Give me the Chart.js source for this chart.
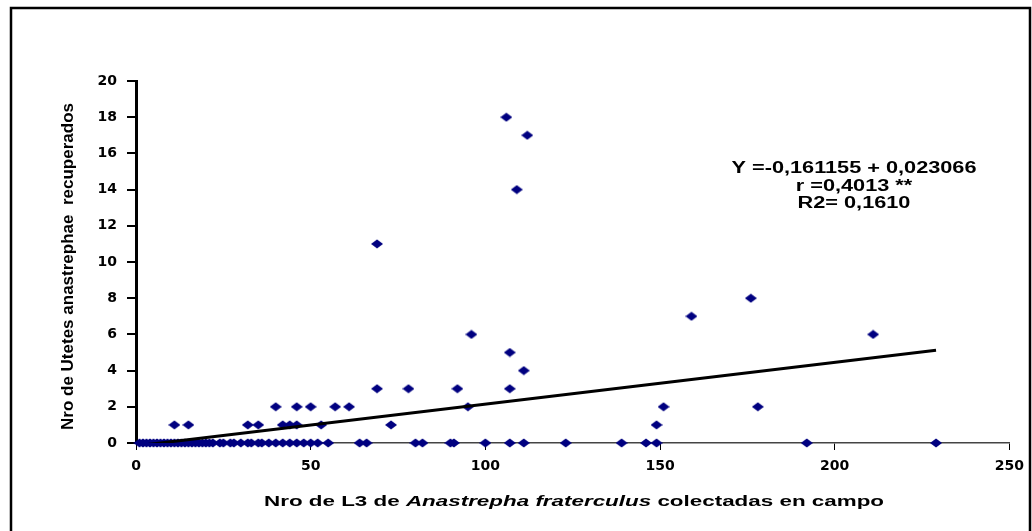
<!DOCTYPE html>
<html>
<head>
<meta charset="utf-8">
<script src="https://cdn.jsdelivr.net/npm/chart.js@4.4.0/dist/chart.umd.min.js"></script>
<style>
  body { margin: 0; background: #fff; }
  #grafico { display: block; }
</style>
</head>
<body>
<canvas id="grafico" width="1032" height="531"></canvas>
<script>
// Nro de L3 colectadas (x) y Utetes recuperados (y)
const xL3 = [
  1, 2, 3, 4, 5, 6, 7, 8, 9, 10, 11, 12, 13, 14, 15, 16, 17, 18, 19, 20, 21, 22,
  24, 25, 27, 28, 30, 32, 33, 35, 36, 38, 40, 42, 44, 46, 48, 50, 52, 55,
  64, 66, 80, 82, 90, 91, 100, 107, 111, 123, 139, 146, 149, 192, 229,
  11, 15, 32, 35, 42, 44, 46, 53, 73, 149,
  40, 46, 50, 57, 61, 95, 151, 178,
  69, 78, 92, 107,
  111, 107, 96, 211, 159, 176, 69, 109, 112, 106
];
const yUtetes = [
  0, 0, 0, 0, 0, 0, 0, 0, 0, 0, 0, 0, 0, 0, 0, 0, 0, 0, 0, 0, 0, 0,
  0, 0, 0, 0, 0, 0, 0, 0, 0, 0, 0, 0, 0, 0, 0, 0, 0, 0,
  0, 0, 0, 0, 0, 0, 0, 0, 0, 0, 0, 0, 0, 0, 0,
  1, 1, 1, 1, 1, 1, 1, 1, 1, 1,
  2, 2, 2, 2, 2, 2, 2, 2,
  3, 3, 3, 3,
  4, 5, 6, 6, 7, 8, 11, 14, 17, 18
];
const xTicks = [0, 50, 100, 150, 200, 250];
const yTicks = [0, 2, 4, 6, 8, 10, 12, 14, 16, 18, 20];

// recta de regresion (coeficientes del propio grafico)
const intercepto = -0.161155;
const pendiente = 0.023066;
const ecuacion = ["Y =-0,161155 + 0,023066", "r =0,4013 **", "R2= 0,1610"];

const puntos = xL3.map((x, i) => ({ x: x, y: yUtetes[i] }));
const xMin = Math.min(...xL3);
const xMax = Math.max(...xL3);
const recta = [
  { x: xMin, y: intercepto + pendiente * xMin },
  { x: xMax, y: intercepto + pendiente * xMax }
];

// marcador rombo azul marino
const rombo = document.createElement("canvas");
rombo.width = 12;
rombo.height = 10;
const rc = rombo.getContext("2d");
rc.fillStyle = "#000080";
rc.beginPath();
rc.moveTo(6, 0.5);
rc.lineTo(12, 5);
rc.lineTo(6, 9.5);
rc.lineTo(0, 5);
rc.closePath();
rc.fill();

const FUENTE = '"Liberation Sans", Arial, sans-serif';

// dibuja texto en partes (normal / cursiva) estirado en horizontal
function textoPartes(ctx, partes, size, escala) {
  let total = 0;
  partes.forEach((p) => {
    ctx.font = (p.italic ? "italic " : "") + "bold " + size + "px " + FUENTE;
    total += ctx.measureText(p.t).width;
  });
  return total * escala;
}
function dibujarPartes(ctx, partes, size, escala, cx, y) {
  const ancho = textoPartes(ctx, partes, size, escala);
  ctx.save();
  ctx.translate(cx - ancho / 2, y);
  ctx.scale(escala, 1);
  ctx.textBaseline = "alphabetic";
  ctx.textAlign = "left";
  ctx.fillStyle = "#000";
  let x = 0;
  partes.forEach((p) => {
    ctx.font = (p.italic ? "italic " : "") + "bold " + size + "px " + FUENTE;
    ctx.fillText(p.t, x, 0);
    x += ctx.measureText(p.t).width;
  });
  ctx.restore();
}

const textos = {
  id: "textos",
  afterDraw(chart) {
    const ctx = chart.ctx;

    // marco
    ctx.save();
    ctx.strokeStyle = "#000";
    ctx.lineWidth = 2.5;
    ctx.beginPath();
    ctx.moveTo(11, 540);
    ctx.lineTo(11, 8);
    ctx.lineTo(1030, 8);
    ctx.lineTo(1030, 540);
    ctx.stroke();
    ctx.restore();

    // ecuacion
    const e1 = [{ t: ecuacion[0] }];
    const esc = 245 / textoPartes(ctx, e1, 16, 1);
    dibujarPartes(ctx, e1, 16, esc, 854, 173);
    dibujarPartes(ctx, [{ t: ecuacion[1] }], 16, esc, 854, 190.5);
    dibujarPartes(ctx, [{ t: ecuacion[2] }], 16, esc, 854, 208);

    // titulo eje x
    const tx = [
      { t: "Nro de L3 de " },
      { t: "Anastrepha fraterculus", italic: true },
      { t: " colectadas en campo" }
    ];
    const escX = 620 / textoPartes(ctx, tx, 15, 1);
    dibujarPartes(ctx, tx, 15, escX, 574, 506);

    // titulo eje y
    const ty = [{ t: "Nro de Utetes anastrephae  recuperados" }];
    const escY = 327 / textoPartes(ctx, ty, 17, 1);
    ctx.save();
    ctx.translate(73, 266.5);
    ctx.rotate(-Math.PI / 2);
    dibujarPartes(ctx, ty, 17, escY, 0, 0);
    ctx.restore();
  }
};

const fuenteTicks = { family: "DejaVu Sans", weight: "bold", size: 14 };

new Chart(document.getElementById("grafico").getContext("2d"), {
  type: "scatter",
  data: {
    datasets: [
      {
        label: "Utetes recuperados",
        data: puntos,
        pointStyle: rombo,
        pointRadius: 5,
        backgroundColor: "#000080",
        borderColor: "#000080",
        clip: false,
        order: 1
      },
      {
        type: "line",
        label: "Regresion",
        data: recta,
        borderColor: "#000",
        borderWidth: 3,
        pointRadius: 0,
        fill: false,
        order: 0
      }
    ]
  },
  options: {
    responsive: false,
    animation: false,
    layout: { padding: { top: 81, right: 17, left: 0, bottom: 0 } },
    plugins: {
      legend: { display: false },
      tooltip: { enabled: false }
    },
    scales: {
      x: {
        type: "linear",
        min: 0,
        max: 250,
        afterBuildTicks: (s) => { s.ticks = xTicks.map((v) => ({ value: v })); },
        afterFit: (s) => { s.height = 88; },
        grid: { drawOnChartArea: false, tickLength: 7, color: "#000", lineWidth: 1 },
        border: { color: "#444", width: 1.5 },
        ticks: { font: fuenteTicks, color: "#000", padding: 8, maxRotation: 0 }
      },
      y: {
        min: 0,
        max: 20,
        afterBuildTicks: (s) => { s.ticks = yTicks.map((v) => ({ value: v })); },
        afterFit: (s) => { s.width = 136; },
        grid: { drawOnChartArea: false, tickLength: 9, color: "#000", lineWidth: 2 },
        border: { color: "#000", width: 3 },
        ticks: { font: fuenteTicks, color: "#000", padding: 10 }
      }
    }
  },
  plugins: [textos]
});
</script>
</body>
</html>
